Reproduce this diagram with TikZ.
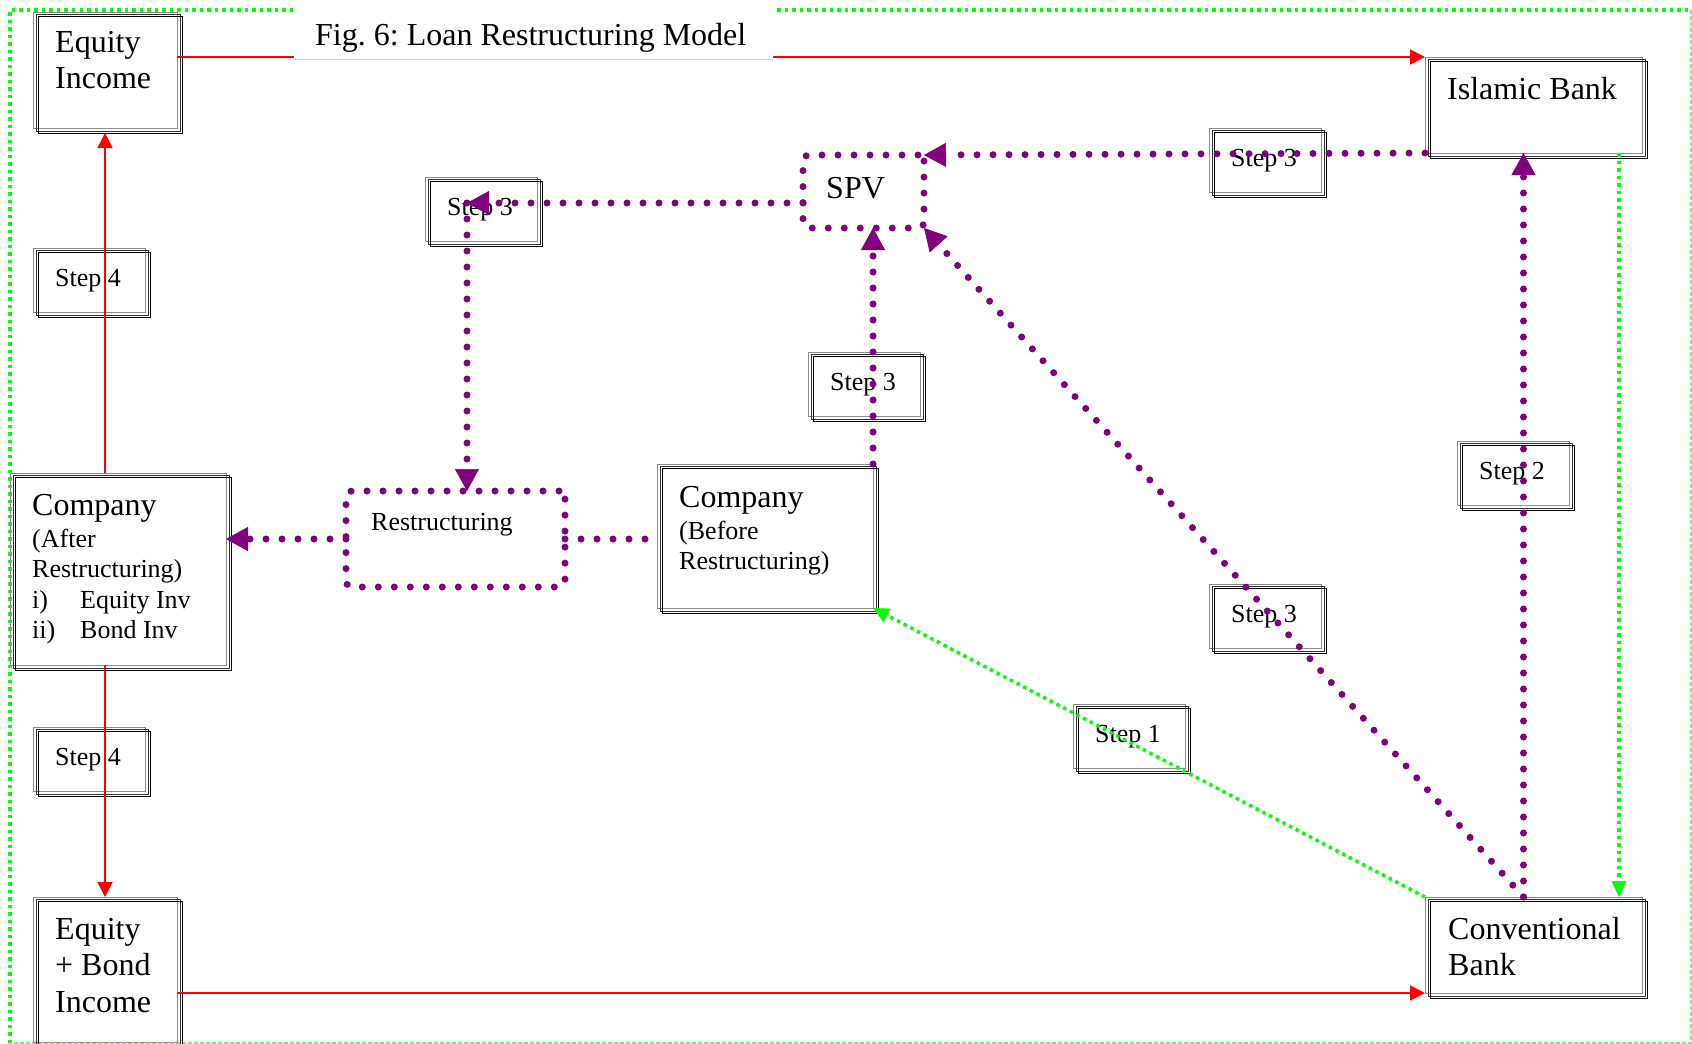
\documentclass[tikz,border=0pt]{standalone}
\usepackage{fontspec}
\setmainfont{Liberation Serif}
\usetikzlibrary{arrows.meta}
\definecolor{vio}{RGB}{128,0,128}
\definecolor{fgreen}{RGB}{0,255,0}
\frenchspacing
% fixed-height opener for the first line of a multi-line label
\newcommand\lnstart{\rule{0pt}{30pt}}

\begin{document}
\begin{tikzpicture}[x=1pt,y=-1pt,
  box/.style={draw=black!45, line width=1pt, rectangle, inner sep=0pt, outer sep=0pt, anchor=north west},
  stepbox/.style={box, minimum width=112pt, minimum height=64pt},
  dotbox/.style={draw=vio, line width=7pt, dash pattern=on 0pt off 16pt, line cap=round,
                 rounded corners=6pt, rectangle, inner sep=0pt, outer sep=0pt, anchor=north west},
  big/.style={font=\fontsize{32}{36.5}\selectfont},
  small/.style={font=\fontsize{26}{30.5}\selectfont},
  lbl/.style={inner sep=0pt, anchor=base west},
  mlbl/.style={inner sep=0pt, anchor=north west, align=left},
  redline/.style={draw=red, line width=1.6pt, -{Triangle[length=15pt,width=15pt]}},
  violine/.style={draw=vio, line width=7pt, dash pattern=on 0pt off 16pt, line cap=round},
  vioarrow/.style={violine, -{Triangle[length=22pt,width=24pt,line width=0.5pt]}},
  greenline/.style={draw=fgreen, line width=3.5pt, dash pattern=on 3.5pt off 4pt},
  greenarrow/.style={greenline, -{Triangle[length=16pt,width=15pt,line width=0.5pt]}},
]
\useasboundingbox (0,0) rectangle (1692,1044);

% outer frame
\draw[greenline] (10,1043) -- (10,10) -- (1692,10);
\draw[fgreen!60, line width=1.2pt, dash pattern=on 4pt off 2pt] (1691,10) -- (1691,1043) -- (10,1043);

% main boxes
\node[box, minimum width=144pt, minimum height=116pt] (eqinc)   at (33,12)   {};
\node[box, minimum width=217pt, minimum height=96pt]  (islamic) at (1425,57) {};
\node[box, minimum width=216pt, minimum height=192pt] (after)   at (10,473)  {};
\node[box, minimum width=216pt, minimum height=144pt] (before)  at (657,464) {};
\node[box, minimum width=144pt, minimum height=145pt] (eqbond)  at (33,897)  {};
\node[box, minimum width=217pt, minimum height=96pt]  (conv)    at (1425,897) {};

% step boxes
\node[stepbox] (s4a) at (33,248)   {};
\node[stepbox] (s3a) at (425,177)  {};
\node[stepbox] (s3b) at (1209,128) {};
\node[stepbox] (s3c) at (808,352)  {};
\node[stepbox] (s2)  at (1457,441) {};
\node[stepbox] (s3d) at (1209,584) {};
\node[stepbox] (s1)  at (1073,704) {};
\node[stepbox] (s4b) at (33,727)   {};

% triple outline of the framed boxes
\foreach \n in {eqinc,islamic,after,before,eqbond,conv,s4a,s3a,s3b,s3c,s2,s3d,s1,s4b}{
  \draw[black!80, line width=1pt] ([shift={(3,2)}]\n.north west) rectangle ([shift={(3,3)}]\n.south east);
  \draw[black, line width=1pt] ([shift={(5,4)}]\n.north west) rectangle ([shift={(5,5)}]\n.south east);
}

% dotted boxes
\node[dotbox, minimum width=121pt, minimum height=73pt] (spv)   at (803,155) {};
\node[dotbox, minimum width=219pt, minimum height=96pt] (restr) at (346,491) {};

% red flows
\draw[redline] (eqinc.east |- islamic.north west) -- (islamic.north west);
\draw[redline] (after.north -| eqinc.south) -- ([yshift=-5pt]eqinc.south);
\draw[redline] (after.south -| eqbond.north) -- (eqbond.north);
\draw[redline] (eqbond.east |- conv.south west) -- (conv.south west);

% title
\node[box, draw=none, fill=white, minimum width=479pt, minimum height=56pt] (title) at (294,3) {};
\draw[red!25, line width=1pt] (title.south west) -- (title.south east);
\node[lbl, big] (title-t) at (315,45) {Fig. 6: Loan Restructuring Model};

% labels
\node[mlbl, big] (eqinc-t) at (55,22) {\lnstart Equity\\Income};
\node[lbl, big] (islamic-t) at (1447,99) {Islamic Bank};
\node[lbl, big] (spv-t) at (826,198) {SPV};
\node[lbl, small] (restr-t) at (371,530) {Restructuring};
\node[mlbl, small] (after-t) at (32,485)
  {\lnstart{\fontsize{32}{36}\selectfont Company}\\[1.5pt](After\\Restructuring)\\
   \makebox[48pt][l]{i)}Equity Inv\\\makebox[48pt][l]{ii)}Bond Inv};
\node[mlbl, small] (before-t) at (679,477)
  {\lnstart{\fontsize{32}{36}\selectfont Company}\\[1.5pt](Before\\Restructuring)};
\node[mlbl, big] (eqbond-t) at (55,909) {\lnstart Equity\\+ Bond\\Income};
\node[mlbl, big] (conv-t) at (1448,909) {\lnstart Conventional\\Bank};

\node[lbl, small] (s4a-t) at (55,286)   {Step 4};
\node[lbl, small] (s3a-t) at (447,215)  {Step 3};
\node[lbl, small] (s3b-t) at (1231,166) {Step 3};
\node[lbl, small] (s3c-t) at (830,390)  {Step 3};
\node[lbl, small] (s2-t)  at (1479,479) {Step 2};
\node[lbl, small] (s3d-t) at (1231,622) {Step 3};
\node[lbl, small] (s1-t)  at (1095,742) {Step 1};
\node[lbl, small] (s4b-t) at (55,765)   {Step 4};

% purple flows
\coordinate (hub) at (467,203);
\draw[vioarrow] (islamic.south west) -- (spv.north east);
\draw[vioarrow] (spv.west |- hub) -- (hub);
\draw[vioarrow] (hub) -- (hub |- restr.north);
\draw[vioarrow] (before.north east) -- (before.north east |- spv.south);
\draw[vioarrow] ([xshift=-10pt]conv.north) -- ([xshift=-10pt]islamic.south);
\draw[vioarrow] ([xshift=-10pt]conv.north) -- (spv.south east);
\draw[vioarrow] (restr.west) -- (restr.west -| after.east);
\draw[violine] (restr.east) -- (restr.east -| before.west);

% green flows
\draw[greenarrow] (conv.north west) -- (before.south east);
\draw[greenarrow] ([xshift=-23pt]islamic.south east) -- ([xshift=-23pt]conv.north east);
\end{tikzpicture}
\end{document}
